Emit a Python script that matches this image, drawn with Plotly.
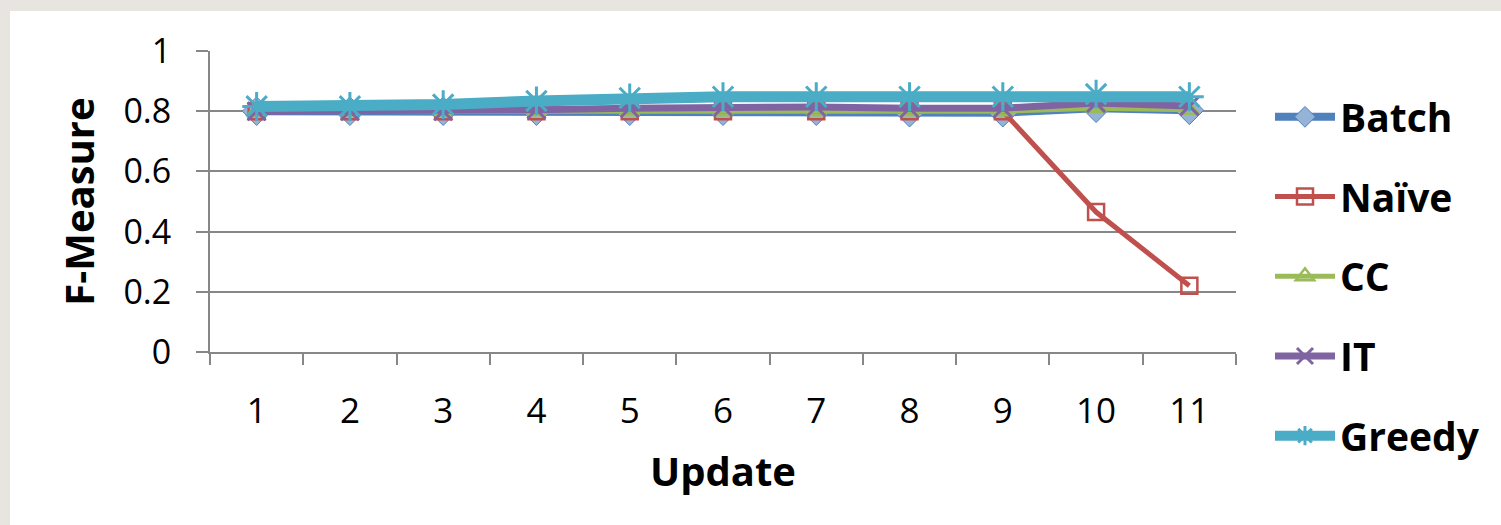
import plotly.graph_objects as go

updates = ["1", "2", "3", "4", "5", "6", "7", "8", "9", "10", "11"]
series_names = ["Batch", "Naïve", "CC", "IT", "Greedy"]
batch = [0.80, 0.80, 0.80, 0.80, 0.80, 0.80, 0.80, 0.795, 0.795, 0.81, 0.803]
naive = [0.80, 0.80, 0.80, 0.80, 0.80, 0.80, 0.80, 0.80, 0.80, 0.465, 0.22]
cc = [0.80, 0.80, 0.80, 0.80, 0.80, 0.80, 0.80, 0.80, 0.80, 0.81, 0.805]
it = [0.80, 0.80, 0.80, 0.805, 0.81, 0.814, 0.814, 0.81, 0.81, 0.827, 0.817]
greedy = [0.816, 0.816, 0.822, 0.834, 0.844, 0.848, 0.848, 0.848, 0.848, 0.857, 0.848]
y_ticks = [0, 0.2, 0.4, 0.6, 0.8, 1]
y_ticklabels = ["0", "0.2", "0.4", "0.6", "0.8", "1"]

values = [batch, naive, cc, it, greedy]
colors = ["#4f81bd", "#c0504d", "#9bbb59", "#8064a2", "#4bacc6"]
line_widths = [8, 5, 5, 7, 11]
symbols = ["diamond", "square-open", "triangle-up-open", "x-thin-open", "asterisk-open"]
msizes = [22, 16, 16, 18, 24]
mline = [1, 2.5, 2.5, 3, 3]

fig = go.Figure()
for name, vals, col, lw, sym, ms, ml in zip(series_names, values, colors, line_widths, symbols, msizes, mline):
    fig.add_trace(go.Scatter(
        x=updates, y=vals, name=name, mode="lines+markers",
        legendgroup=name,
        line=dict(color=col, width=lw),
        marker=dict(symbol=sym, size=ms, color="#95b3d7" if sym == "diamond" else col,
                    line=dict(color=col, width=ml)),
    ))

L, R, T, B = 210, 1236, 51, 352
W, H = 1501, 525
def px(x):
    return (x - L) / (R - L)
def py(y):
    return (B - y) / (B - T)

fig.add_shape(type="rect", xref="paper", yref="paper",
              x0=px(10), x1=px(1510), y0=py(11), y1=py(530),
              fillcolor="white", line=dict(width=0), layer="below")

axis_col = "#878787"
fig.update_layout(
    width=W, height=H,
    margin=dict(l=L, r=W - R, t=T, b=H - B, pad=0),
    paper_bgcolor="#e8e5e0",
    plot_bgcolor="white",
    font=dict(family="Open Sans", color="black"),
    showlegend=True,
    legend=dict(
        x=px(1270), y=py(85), xanchor="left", yanchor="top",
        bgcolor="rgba(0,0,0,0)",
        font=dict(family="Open Sans", size=39, weight="bold", color="black"),
        itemwidth=60, tracegroupgap=26, itemsizing="trace", maxheight=520,
    ),
    xaxis=dict(
        type="category", range=[-0.5, len(updates) - 0.5],
        tickson="boundaries", ticks="outside", ticklen=11,
        tickcolor=axis_col, tickwidth=2, showline=True, linecolor=axis_col, linewidth=2,
        showgrid=False, tickfont=dict(size=35, family="Open Sans"),
        ticklabelstandoff=27,
        title=dict(text="Update", font=dict(size=40, weight="bold", family="Open Sans"), standoff=26),
    ),
    yaxis=dict(
        range=[0, 1], tickvals=y_ticks, ticktext=y_ticklabels,
        ticks="outside", ticklen=12, tickcolor=axis_col, tickwidth=2,
        showline=True, linecolor=axis_col, linewidth=2,
        showgrid=True, gridcolor=axis_col, gridwidth=2, zeroline=False,
        tickfont=dict(size=34, family="Open Sans"), ticklabelstandoff=18,
        title=dict(text="F-Measure", font=dict(size=40, weight="bold", family="Open Sans"), standoff=16),
    ),
)

fig.write_html("out.html", config={"displayModeBar": False},
               post_script="document.body.style.margin='0';")
